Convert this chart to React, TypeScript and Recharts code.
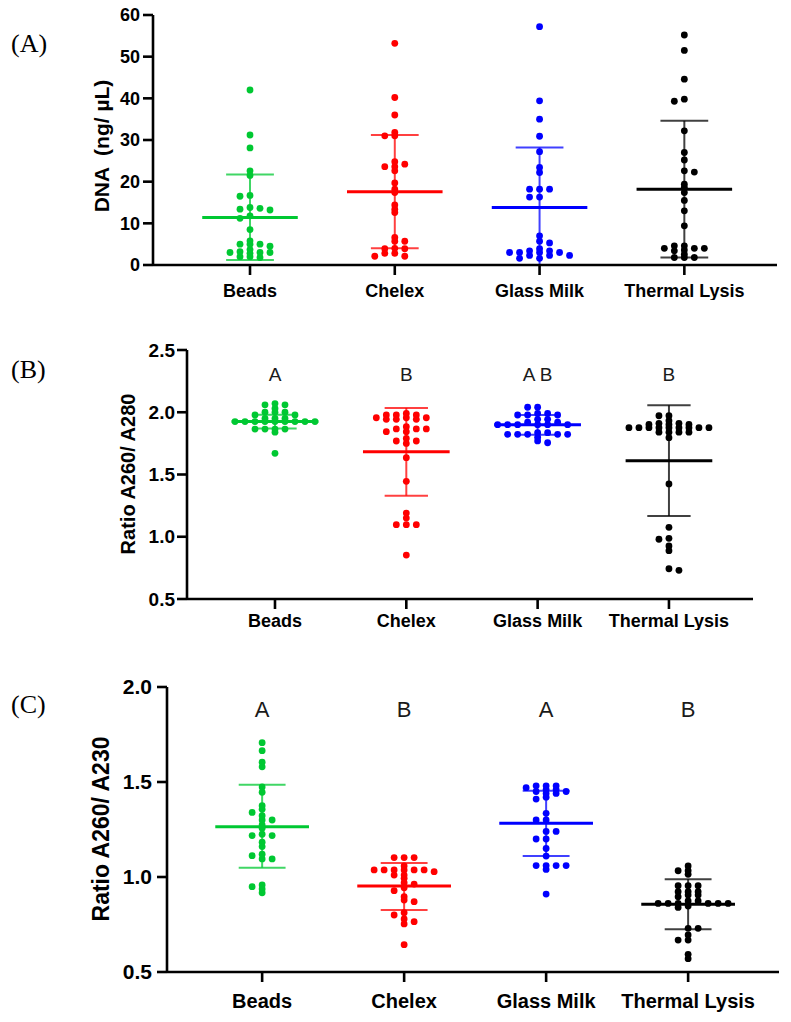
import React from 'react';
import { ScatterChart, Scatter, XAxis, YAxis, ReferenceLine } from 'recharts';

// ---------- data ----------
const categories = ['Beads', 'Chelex', 'Glass Milk', 'Thermal Lysis'];
const groupColors = ['#00c832', '#ff0000', '#0000ff', '#000000'];

// (A) DNA concentration (ng/µL)
const dnaBeads = [42.0, 31.2, 28.1, 22.6, 21.5, 16.7, 16.5, 13.8, 13.6, 13.4, 13.2, 11.8, 11.2, 8.5, 5.8, 5.0, 5.0, 5.0, 4.5, 3.7, 3.2, 3.0, 3.0, 3.0, 2.8, 2.0, 2.0, 1.8];
const dnaChelex = [53.2, 40.2, 36.0, 31.8, 31.0, 31.0, 24.8, 24.2, 23.6, 23.6, 22.6, 19.7, 18.2, 17.4, 14.4, 13.4, 12.6, 6.6, 5.7, 5.7, 4.0, 3.9, 3.9, 2.8, 2.8, 2.1, 2.1];
const dnaGlass = [57.2, 39.4, 35.0, 30.9, 27.2, 23.4, 22.2, 18.2, 18.2, 18.2, 16.3, 16.3, 7.0, 5.7, 5.3, 3.9, 3.4, 3.4, 3.0, 3.0, 3.0, 3.0, 2.3, 2.3, 2.3, 1.6, 1.6];
const dnaThermal = [55.2, 51.5, 44.6, 39.8, 39.3, 32.2, 27.0, 25.2, 22.6, 22.3, 19.4, 18.6, 17.4, 15.5, 13.0, 9.4, 4.6, 4.6, 4.0, 4.0, 4.0, 3.6, 3.4, 2.6, 1.8, 1.8, 1.8];
const dnaMean = [11.4, 17.6, 13.8, 18.2];
const dnaSdHigh = [21.7, 31.2, 28.2, 34.6];
const dnaSdLow = [1.2, 4.0, 0.0, 1.8];
const dnaTicks = [0, 10, 20, 30, 40, 50, 60];

// (B) A260/A280
const r280Beads = [2.07, 2.06, 2.06, 2.03, 2.0, 2.0, 2.0, 1.978, 1.978, 1.95, 1.95, 1.95, 1.925, 1.925, 1.925, 1.925, 1.925, 1.925, 1.925, 1.925, 1.925, 1.865, 1.865, 1.865, 1.865, 1.84, 1.67];
const r280Chelex = [1.99, 1.978, 1.978, 1.978, 1.956, 1.956, 1.956, 1.943, 1.943, 1.943, 1.884, 1.866, 1.866, 1.866, 1.844, 1.844, 1.79, 1.769, 1.769, 1.75, 1.635, 1.445, 1.19, 1.15, 1.097, 1.097, 1.097, 0.853];
const r280Glass = [2.04, 2.04, 1.99, 1.99, 1.978, 1.978, 1.978, 1.943, 1.943, 1.92, 1.92, 1.9, 1.9, 1.9, 1.9, 1.9, 1.9, 1.836, 1.836, 1.823, 1.823, 1.823, 1.823, 1.823, 1.8, 1.77, 1.755];
const r280Thermal = [1.972, 1.972, 1.932, 1.911, 1.911, 1.902, 1.902, 1.902, 1.876, 1.876, 1.876, 1.876, 1.876, 1.876, 1.876, 1.876, 1.876, 1.84, 1.84, 1.84, 1.84, 1.796, 1.424, 1.076, 0.987, 0.98, 0.926, 0.888, 0.743, 0.73];
const r280Mean = [1.925, 1.683, 1.9, 1.611];
const r280SdHigh = [1.98, 2.034, 1.978, 2.056];
const r280SdLow = [1.87, 1.33, 1.82, 1.167];
const r280Ticks = [0.5, 1.0, 1.5, 2.0, 2.5];
const r280Letters = ['A', 'B', 'A B', 'B'];
const r280LetterLevel = 2.3;

// (C) A260/A230
const r230Beads = [1.707, 1.665, 1.604, 1.58, 1.474, 1.446, 1.375, 1.356, 1.34, 1.323, 1.3, 1.3, 1.274, 1.256, 1.225, 1.218, 1.218, 1.183, 1.16, 1.12, 1.112, 1.095, 1.095, 0.958, 0.949, 0.937, 0.917];
const r230Chelex = [1.102, 1.102, 1.102, 1.058, 1.037, 1.037, 1.037, 1.037, 1.037, 1.037, 1.028, 1.01, 1.01, 0.993, 0.97, 0.963, 0.944, 0.928, 0.896, 0.879, 0.87, 0.812, 0.8, 0.779, 0.765, 0.753, 0.644];
const r230Glass = [1.48, 1.48, 1.48, 1.47, 1.46, 1.46, 1.45, 1.45, 1.44, 1.44, 1.42, 1.41, 1.335, 1.3, 1.3, 1.24, 1.24, 1.2, 1.2, 1.15, 1.11, 1.06, 1.06, 1.06, 1.06, 1.04, 0.91];
const r230Thermal = [1.058, 1.033, 1.033, 1.014, 0.954, 0.954, 0.954, 0.923, 0.923, 0.923, 0.905, 0.905, 0.896, 0.874, 0.874, 0.861, 0.861, 0.861, 0.861, 0.861, 0.861, 0.847, 0.84, 0.73, 0.73, 0.695, 0.668, 0.668, 0.593, 0.57];
const r230Mean = [1.265, 0.953, 1.283, 0.856];
const r230SdHigh = [1.486, 1.074, 1.454, 0.988];
const r230SdLow = [1.049, 0.826, 1.11, 0.725];
const r230Ticks = [0.5, 1.0, 1.5, 2.0];
const r230Letters = ['A', 'B', 'A', 'B'];
const r230LetterLevel = 1.88;

// ---------- layout ----------
const W = 791;
const X_DOMAIN: [number, number] = [0.33, 4.64];
const SANS = '"Liberation Sans", Arial, Helvetica, sans-serif';
const SERIF = '"Liberation Serif", "Times New Roman", serif';

// beeswarm: points are pushed sideways into columns (10 px apart) when they would overlap
function swarm(values: number[], group: number, yPx: number, xPx: number) {
  const stepX = 10 / xPx;
  const minGap = 3.1;
  const cols: Record<number, number[]> = {};
  let left = 0;
  let right = 0;
  const sorted = [...values].sort((a, b) => b - a);
  return sorted.map((v) => {
    const py = v * yPx;
    const free = (k: number) => !(cols[k] || []).some((p) => Math.abs(p - py) < minGap);
    let chosen = 0;
    if (!free(0)) {
      for (let k = 1; k < 60; k++) {
        const order = left <= right ? [-k, k] : [k, -k];
        const f = order.find((c) => free(c));
        if (f !== undefined) {
          chosen = f;
          break;
        }
      }
    }
    if (chosen < 0) left++;
    if (chosen > 0) right++;
    (cols[chosen] = cols[chosen] || []).push(py);
    return { x: group + chosen * stepX, y: v };
  });
}

type PanelCfg = {
  top: number;
  height: number;
  margin: { top: number; right: number; bottom: number; left: number };
  yAxisWidth: number;
  xAxisHeight: number;
  yDomain: [number, number];
  yTicks: number[];
  yDecimals: number;
  groups: number[][];
  means: number[];
  sdHigh: number[];
  sdLow: number[];
  letters?: string[];
  letterLevel?: number;
  letterSize?: number;
  tickFont: number;
  xTickFont: number;
  xTickMargin: number;
  yTickMargin: number;
};

function Panel({ cfg }: { cfg: PanelCfg }) {
  const { margin, yAxisWidth, xAxisHeight, height, yDomain } = cfg;
  const plotW = W - margin.left - margin.right - yAxisWidth;
  const plotH = height - margin.top - margin.bottom - xAxisHeight;
  const xPx = plotW / (X_DOMAIN[1] - X_DOMAIN[0]);
  const yPx = plotH / (yDomain[1] - yDomain[0]);
  const axisStyle = { stroke: '#000', strokeWidth: 2.6 };
  const letterData = cfg.letters
    ? cfg.letters.map((t, i) => ({ x: i + 1, y: cfg.letterLevel as number, t }))
    : [];

  const lines: React.ReactNode[] = [];
  cfg.means.forEach((m, i) => {
    const g = i + 1;
    const c = groupColors[i];
    lines.push(
      <ReferenceLine key={`v${i}`} segment={[{ x: g, y: cfg.sdLow[i] }, { x: g, y: cfg.sdHigh[i] }]} stroke={c} strokeWidth={2} strokeOpacity={0.75} ifOverflow="visible" />,
      <ReferenceLine key={`h${i}`} segment={[{ x: g - 0.165, y: cfg.sdHigh[i] }, { x: g + 0.165, y: cfg.sdHigh[i] }]} stroke={c} strokeWidth={2} strokeOpacity={0.75} ifOverflow="visible" />,
      <ReferenceLine key={`l${i}`} segment={[{ x: g - 0.165, y: cfg.sdLow[i] }, { x: g + 0.165, y: cfg.sdLow[i] }]} stroke={c} strokeWidth={2} strokeOpacity={0.75} ifOverflow="visible" />,
      <ReferenceLine key={`m${i}`} segment={[{ x: g - 0.33, y: m }, { x: g + 0.33, y: m }]} stroke={c} strokeWidth={3} ifOverflow="visible" />
    );
  });

  return (
    <div style={{ position: 'absolute', left: 0, top: cfg.top, width: W, height }}>
      <ScatterChart width={W} height={height} margin={margin}>
        <XAxis
          type="number"
          dataKey="x"
          domain={X_DOMAIN}
          ticks={[1, 2, 3, 4]}
          interval={0}
          allowDataOverflow
          tickFormatter={(v: number) => categories[Math.round(v) - 1] || ''}
          axisLine={axisStyle}
          tickLine={axisStyle}
          tickSize={10}
          tickMargin={cfg.xTickMargin}
          height={xAxisHeight}
          tick={{ fontSize: cfg.xTickFont, fontWeight: 700, fill: '#000', fontFamily: SANS }}
        />
        <YAxis
          type="number"
          dataKey="y"
          domain={yDomain}
          ticks={cfg.yTicks}
          interval={0}
          allowDataOverflow
          tickFormatter={(v: number) => v.toFixed(cfg.yDecimals)}
          axisLine={axisStyle}
          tickLine={axisStyle}
          tickSize={10}
          tickMargin={cfg.yTickMargin}
          width={yAxisWidth}
          tick={{ fontSize: cfg.tickFont, fontWeight: 700, fill: '#000', fontFamily: SANS }}
        />
        {lines}
        {cfg.groups.map((vals, i) => {
          const c = groupColors[i];
          return (
            <Scatter
              key={`s${i}`}
              data={swarm(vals, i + 1, yPx, xPx)}
              fill={c}
              isAnimationActive={false}
              shape={(p: any) => (p.cx == null ? <g /> : <circle cx={p.cx} cy={p.cy} r={3.4} fill={c} />)}
            />
          );
        })}
        {cfg.letters && (
          <Scatter
            data={letterData}
            fill="#111"
            isAnimationActive={false}
            shape={(p: any) =>
              p.cx == null ? (
                <g />
              ) : (
                <text x={p.cx} y={p.cy} textAnchor="middle" dominantBaseline="central" fontSize={cfg.letterSize} fontFamily={SANS} fill="#1a1a1a" style={{ whiteSpace: 'pre' }}>
                  {p.payload.t}
                </text>
              )
            }
          />
        )}
      </ScatterChart>
    </div>
  );
}

const panelA: PanelCfg = {
  top: 0,
  height: 300,
  margin: { top: 15, right: 14, bottom: 5, left: 60 },
  yAxisWidth: 93,
  xAxisHeight: 30,
  yDomain: [0, 60],
  yTicks: dnaTicks,
  yDecimals: 0,
  groups: [dnaBeads, dnaChelex, dnaGlass, dnaThermal],
  means: dnaMean,
  sdHigh: dnaSdHigh,
  sdLow: dnaSdLow,
  tickFont: 18,
  xTickFont: 18,
  xTickMargin: 9,
  yTickMargin: 3,
};

const panelB: PanelCfg = {
  top: 300,
  height: 330,
  margin: { top: 50, right: 38, bottom: 1, left: 60 },
  yAxisWidth: 127,
  xAxisHeight: 30,
  yDomain: [0.5, 2.5],
  yTicks: r280Ticks,
  yDecimals: 1,
  groups: [r280Beads, r280Chelex, r280Glass, r280Thermal],
  means: r280Mean,
  sdHigh: r280SdHigh,
  sdLow: r280SdLow,
  letters: r280Letters,
  letterLevel: r280LetterLevel,
  letterSize: 19,
  tickFont: 19,
  xTickFont: 18,
  xTickMargin: 5,
  yTickMargin: 2,
};

const panelC: PanelCfg = {
  top: 630,
  height: 392,
  margin: { top: 57, right: 12, bottom: 10, left: 60 },
  yAxisWidth: 107,
  xAxisHeight: 40,
  yDomain: [0.5, 2.0],
  yTicks: r230Ticks,
  yDecimals: 1,
  groups: [r230Beads, r230Chelex, r230Glass, r230Thermal],
  means: r230Mean,
  sdHigh: r230SdHigh,
  sdLow: r230SdLow,
  letters: r230Letters,
  letterLevel: r230LetterLevel,
  letterSize: 22,
  tickFont: 21,
  xTickFont: 20,
  xTickMargin: 12,
  yTickMargin: 5,
};

export default function App() {
  return (
    <div style={{ position: 'absolute', left: 0, top: 0, width: W, height: 1022, background: '#fff', overflow: 'hidden' }}>
      <Panel cfg={panelA} />
      <Panel cfg={panelB} />
      <Panel cfg={panelC} />
      <svg width={W} height={1022} style={{ position: 'absolute', left: 0, top: 0, pointerEvents: 'none' }}>
        <text x={11} y={52} fontSize={26} fontFamily={SERIF} fill="#000">(A)</text>
        <text x={11} y={378} fontSize={26} fontFamily={SERIF} fill="#000">(B)</text>
        <text x={11} y={713} fontSize={26} fontFamily={SERIF} fill="#000">(C)</text>
        <text transform="translate(109,146) rotate(-90)" textAnchor="middle" fontSize={21} fontWeight={700} fontFamily={SANS} fill="#000" style={{ whiteSpace: 'pre' }}>
          {'DNA  (ng/ µL)'}
        </text>
        <text transform="translate(135,474) rotate(-90)" textAnchor="middle" fontSize={20} fontWeight={700} fontFamily={SANS} fill="#000">
          Ratio A260/ A280
        </text>
        <text transform="translate(109,829) rotate(-90)" textAnchor="middle" fontSize={23} fontWeight={700} fontFamily={SANS} fill="#000">
          Ratio A260/ A230
        </text>
      </svg>
    </div>
  );
}
